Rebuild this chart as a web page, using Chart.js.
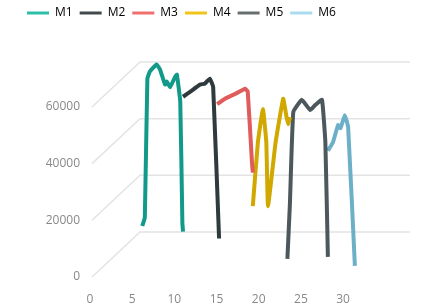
<!DOCTYPE html>
<html>
<head>
<meta charset="utf-8">
<script src="https://cdn.jsdelivr.net/npm/chart.js@4"></script>
<style>
  html, body { margin: 0; padding: 0; background: #fff; }
  #wrap { width: 429px; height: 307px; }
</style>
</head>
<body>
<div id="wrap"><canvas id="chart"></canvas></div>
<script>
// ── Datos ───────────────────────────────────────────────────
const seriesNames = ['M1', 'M2', 'M3', 'M4', 'M5', 'M6'];

const m1x = [6.2, 6.5, 6.8, 7.1, 7.9, 8.3, 8.9, 9.1, 9.5, 10.1, 10.3, 10.7, 10.95, 11.03];
const m1y = [18000, 21000, 70000, 72500, 75000, 73200, 67900, 69000, 67000, 70700, 71400, 61800, 19000, 16000];

const m2x = [11.03, 11.9, 13.05, 13.6, 14.2, 14.6, 15.3];
const m2y = [63600, 65400, 67900, 68200, 70000, 67100, 13600];

const m3x = [15.07, 16.0, 17.2, 18.4, 18.7, 19.2, 19.3];
const m3y = [61000, 62900, 64600, 66400, 65400, 40400, 36800];

const m4x = [19.3, 19.9, 20.5, 20.9, 21.1, 22.0, 22.9, 23.3, 23.5, 23.7];
const m4y = [25000, 47500, 59300, 47500, 25000, 47500, 62900, 56400, 53900, 56400];

const m5x = [23.4, 23.7, 24.1, 25.1, 26.1, 26.7, 27.5, 27.9, 28.2];
const m5y = [6400, 26000, 58200, 62500, 58900, 60700, 62500, 47500, 7100];

const m6x = [28.2, 28.8, 29.4, 29.7, 30.2, 30.6, 31.4];
const m6y = [44600, 47500, 53600, 52500, 57100, 52900, 3900];

const xTicks = [0, 5, 10, 15, 20, 25, 30];
const yTicks = [0, 20000, 40000, 60000];
const gridEndX = 32;   // fin de la rejilla en unidades de x

const lineColors = ['#119a89', '#2e3a3d', '#e05c5c', '#d1a800', '#4d585c', '#6cb0c8'];
const legendColors = ['#2bbfa8', '#404a4d', '#f07070', '#f0c419', '#666e70', '#a8dcef'];

const xs = [m1x, m2x, m3x, m4x, m5x, m6x];
const ys = [m1y, m2y, m3y, m4y, m5y, m6y];

// ── Rejilla en perspectiva (plano trasero) ──────────────────
const gridPersp = {
    id: 'gridPersp',
    beforeDatasetsDraw(chart) {
        const { ctx, chartArea, scales } = chart;
        const dx = 50, dy = -45;
        const xEnd = scales.x.getPixelForValue(gridEndX);
        ctx.save();
        ctx.strokeStyle = '#e3e3e3';
        ctx.lineWidth = 1.5;
        yTicks.forEach(v => {
            const py = scales.y.getPixelForValue(v);
            ctx.beginPath();
            ctx.moveTo(chartArea.left + 2, py);
            ctx.lineTo(chartArea.left + dx, py + dy);
            ctx.lineTo(xEnd + dx, py + dy);
            ctx.stroke();
        });
        ctx.restore();
    }
};

new Chart(document.getElementById('chart'), {
    type: 'line',
    data: {
        datasets: seriesNames.map((name, i) => ({
            label: name,
            data: xs[i].map((x, k) => ({ x, y: ys[i][k] })),
            borderColor: lineColors[i],
            backgroundColor: legendColors[i],
            borderWidth: 4,
            pointRadius: 0,
            tension: 0.1,
            clip: false
        }))
    },
    options: {
        responsive: true,
        maintainAspectRatio: false,
        animation: false,
        layout: { padding: { left: 20, right: 10, top: 0, bottom: 0 } },
        plugins: {
            tooltip: { enabled: false },
            legend: {
                position: 'top',
                align: 'start',
                labels: {
                    boxWidth: 22,
                    boxHeight: 3,
                    padding: 7,
                    color: '#555',
                    font: { family: 'Open Sans', size: 12 },
                    generateLabels: chart => chart.data.datasets.map((d, i) => ({
                        text: d.label,
                        fillStyle: legendColors[i],
                        strokeStyle: legendColors[i],
                        lineWidth: 0,
                        datasetIndex: i
                    }))
                }
            }
        },
        scales: {
            x: {
                type: 'linear',
                min: 0,
                max: 39,
                afterBuildTicks: s => { s.ticks = xTicks.map(v => ({ value: v })); },
                afterFit: s => { s.height = 30; },
                grid: { display: false, drawTicks: false },
                border: { display: false },
                ticks: { padding: 15, color: '#888', font: { family: 'Open Sans', size: 12 } }
            },
            y: {
                min: 0,
                max: 87500,
                afterBuildTicks: s => { s.ticks = yTicks.map(v => ({ value: v })); },
                afterFit: s => { s.width = 70; },
                grid: { display: false, drawTicks: false },
                border: { display: false },
                ticks: {
                    padding: 10,
                    color: '#888',
                    font: { family: 'Open Sans', size: 12 },
                    callback: v => String(v)
                }
            }
        }
    },
    plugins: [gridPersp]
});
</script>
</body>
</html>
